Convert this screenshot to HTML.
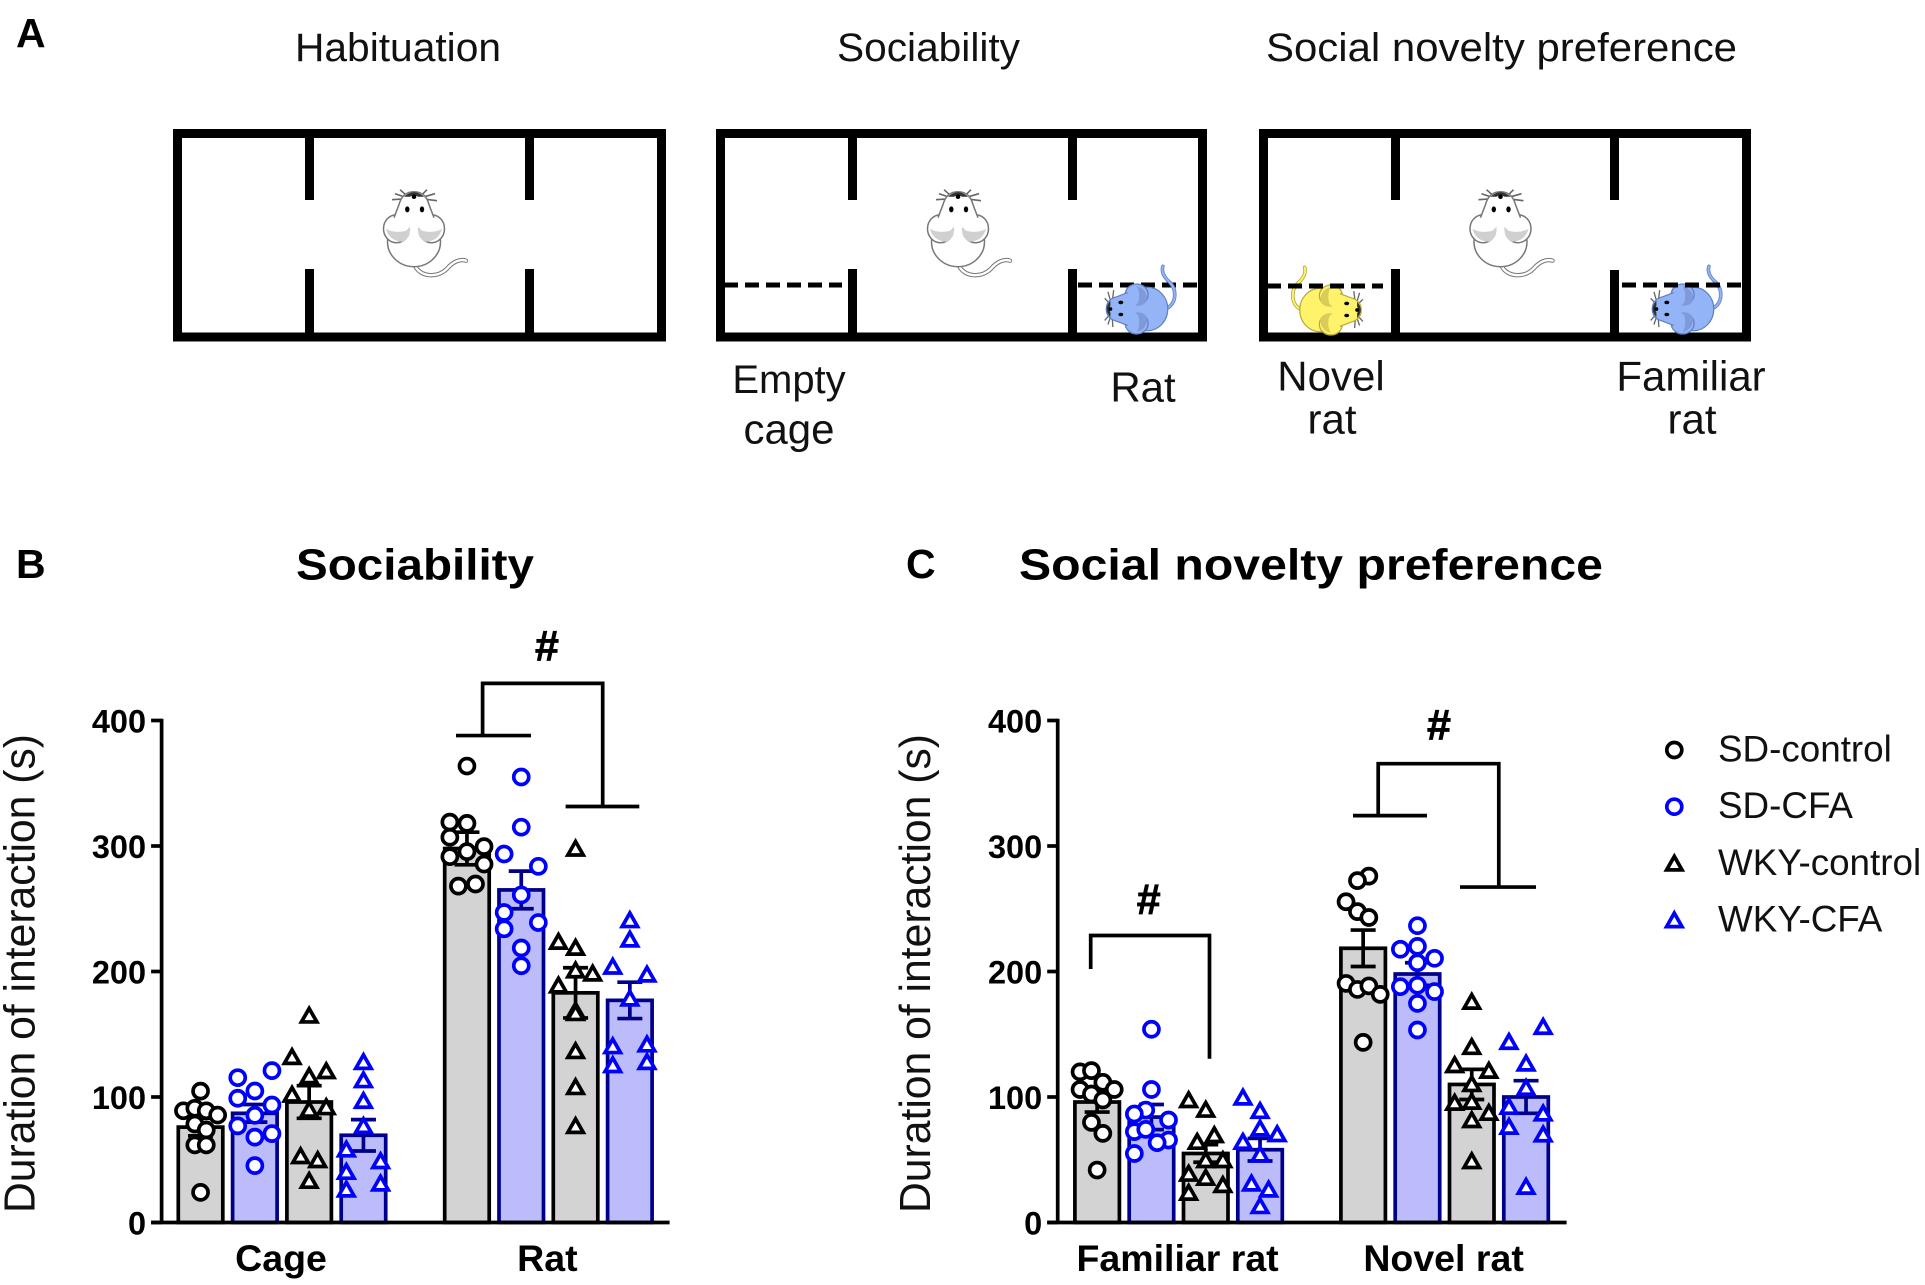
<!DOCTYPE html>
<html lang="en">
<head>
<meta charset="utf-8">
<title>Sociability and social novelty preference</title>
<style>
html,body{margin:0;padding:0;background:#fff;}
svg{display:block;font-family:"Liberation Sans",Arial,sans-serif;}
.hdr{font-size:40px;fill:#111;}
.lbl{font-size:42px;fill:#111;text-anchor:middle;}
.panel{font-size:41px;font-weight:bold;fill:#000;}
.title{font-size:44px;font-weight:bold;fill:#000;}
.hash{font-size:43px;font-weight:bold;fill:#000;text-anchor:middle;stroke:#000;stroke-width:.8px;}
.legend-text{font-size:36.8px;fill:#111;}
.wall{fill:#000;}
.dash{stroke:#000;stroke-width:5;stroke-dasharray:14 7;fill:none;}
</style>
</head>
<body>
<svg id="figure" xmlns="http://www.w3.org/2000/svg" width="1925" height="1285" viewBox="0 0 1925 1285">
  <defs>
    <g id="mouse">
      <path d="M1,39 C6,50 23,52 33,42 C39,35 46,32 52,34" fill="none" stroke="var(--s)" stroke-width="4.4" stroke-linecap="round"/>
      <path d="M1,39 C6,50 23,52 33,42 C39,35 46,32 52,34" fill="none" stroke="var(--t)" stroke-width="2.4" stroke-linecap="round"/>
      <path d="M-7,-28 L-22,-27 M-7,-29 L-19,-33 M-6,-30 L-14,-37 M7,-28 L23,-26 M7,-29 L21,-33 M6,-30 L13,-37" fill="none" stroke="#666" stroke-width="1.6"/>
      <ellipse cx="0" cy="15" rx="26.5" ry="25" fill="var(--c)" stroke="var(--s)" stroke-width="1.5"/>
      <ellipse cx="-17.5" cy="2" rx="13" ry="14" fill="var(--c)" stroke="var(--s)" stroke-width="1.5"/>
      <ellipse cx="17.5" cy="2" rx="13" ry="14" fill="var(--c)" stroke="var(--s)" stroke-width="1.5"/>
      <path d="M0,-35 C-8,-35 -13,-30 -15,-22 L-20,-9 L-8,8 L8,8 L20,-9 L15,-22 C13,-30 8,-35 0,-35 Z" fill="var(--c)"/>
      <path d="M-20,-9 L-15,-22 C-13,-30 -8,-35 0,-35 C8,-35 13,-30 15,-22 L20,-9" fill="none" stroke="var(--s)" stroke-width="1.5"/>
      <path d="M-28,2 Q-20,7 -8,4 L-4,0 Q-3,12 -12,15 Q-25,14 -28,2 Z" fill="var(--h)"/>
      <path d="M28,2 Q20,7 8,4 L4,0 Q3,12 12,15 Q25,14 28,2 Z" fill="var(--h)"/>
      <path d="M-10,-30 Q0,-39 10,-30 L4,-30 Q0,-33 -4,-30 Z" fill="#333"/>
      <circle cx="0" cy="-30" r="2.3" fill="#000"/>
      <ellipse cx="-6.7" cy="-17.3" rx="2.2" ry="3" fill="#000"/>
      <ellipse cx="8" cy="-17.3" rx="2.2" ry="3" fill="#000"/>
    </g>
  </defs>

  <!-- Panel A -->
  <g id="panel-a">
    <text class="panel" x="16" y="47">A</text>
    <text class="hdr" x="295" y="61" textLength="206" lengthAdjust="spacingAndGlyphs">Habituation</text>
    <text class="hdr" x="837" y="61" textLength="183" lengthAdjust="spacingAndGlyphs">Sociability</text>
    <text class="hdr" x="1266" y="61" textLength="471" lengthAdjust="spacingAndGlyphs">Social novelty preference</text>

    <g>
      <rect x="177.500" y="133.500" width="484" height="203.500" fill="none" stroke="#000" stroke-width="9"/>
      <rect class="wall" x="305" y="130" width="9" height="70"/>
      <rect class="wall" x="525" y="130" width="9" height="70"/>
      <rect class="wall" x="305" y="269" width="9" height="68"/>
      <rect class="wall" x="525" y="269" width="9" height="68"/>
      <use href="#mouse" transform="translate(414,226.700)" style="--c:#fff;--s:#777;--t:#fff;--h:#d0d0d0"/>
    </g>

    <g>
      <rect x="720.500" y="133.500" width="482" height="203.500" fill="none" stroke="#000" stroke-width="9"/>
      <rect class="wall" x="848" y="130" width="9" height="70"/>
      <rect class="wall" x="1068" y="130" width="9" height="70"/>
      <rect class="wall" x="848" y="269" width="9" height="68"/>
      <rect class="wall" x="1068" y="269" width="9" height="68"/>
      <line class="dash" x1="724" y1="285" x2="842" y2="285"/>
      <line class="dash" x1="1078" y1="285" x2="1200" y2="285"/>
      <use href="#mouse" transform="translate(958,226.700)" style="--c:#fff;--s:#777;--t:#fff;--h:#d0d0d0"/>
      <use href="#mouse" transform="translate(1135,309) rotate(-90) scale(.82)" style="--c:#94b4f8;--s:#5f7fc0;--t:#94b4f8;--h:#7f9ad8"/>
    </g>

    <g>
      <rect x="1263.500" y="133.500" width="483" height="203.500" fill="none" stroke="#000" stroke-width="9"/>
      <rect class="wall" x="1391" y="130" width="9" height="70"/>
      <rect class="wall" x="1610" y="130" width="9" height="70"/>
      <rect class="wall" x="1391" y="269" width="9" height="68"/>
      <rect class="wall" x="1610" y="270" width="9" height="67"/>
      <use href="#mouse" transform="translate(1332.500,310) rotate(90) scale(-.82,.82)" style="--c:#fff36b;--s:#b5a93a;--t:#fff36b;--h:#d9cc58"/>
      <use href="#mouse" transform="translate(1681,309) rotate(-90) scale(.82)" style="--c:#94b4f8;--s:#5f7fc0;--t:#94b4f8;--h:#7f9ad8"/>
      <line class="dash" x1="1267" y1="286" x2="1383" y2="286"/>
      <line class="dash" x1="1622" y1="285" x2="1741" y2="285"/>
      <use href="#mouse" transform="translate(1500.500,226.700)" style="--c:#fff;--s:#777;--t:#fff;--h:#d0d0d0"/>
    </g>

    <text class="lbl" style="font-size:40px" x="789" y="393">Empty</text>
    <text class="lbl" x="789" y="443.500">cage</text>
    <text class="lbl" x="1143" y="401.500">Rat</text>
    <text class="lbl" x="1331" y="390.500">Novel</text>
    <text class="lbl" x="1332" y="433.500">rat</text>
    <text class="lbl" x="1691" y="390.500">Familiar</text>
    <text class="lbl" x="1692" y="433.500">rat</text>
  </g>

  <!-- Panel headings -->
  <text class="panel" x="16" y="578">B</text>
  <text class="title" x="296" y="579.500" textLength="238" lengthAdjust="spacingAndGlyphs">Sociability</text>
  <text class="panel" x="906" y="578">C</text>
  <text class="title" x="1019" y="579.500" textLength="584" lengthAdjust="spacingAndGlyphs">Social novelty preference</text>

  <g id="chart-b"></g>
  <g id="chart-c"></g>

  <!-- Legend -->
  <g id="legend"></g>
</svg>

<script>
// ---------- shared data ----------
const seriesLabels = ['SD-control', 'SD-CFA', 'WKY-control', 'WKY-CFA'];
const tickValues = [0, 100, 200, 300, 400];

// ---------- Panel B: sociability ----------
const sociabilityCategories = ['Cage', 'Rat'];
const cageMeans = [76, 87, 96, 69.5];
const cageErrors = [7, 7, 13, 12.5];
const ratMeans = [298, 265, 183, 177];
const ratErrors = [13, 15, 20, 14.5];

const cageSdControl = [104.7, 89, 91, 89, 85.6, 78.5, 73.7, 61.8, 61.8, 24];
const cageSdControlSlots = [0, -3, -1, 1, 3, -1, 1, -1, 1, 0];
const cageSdCfa = [115.4, 121, 104.8, 99, 93.6, 85.4, 77, 70.8, 68, 45.3];
const cageSdCfaSlots = [-3, 3, 0, -3, 3, 0, -3, 3, 0, 0];
const cageWkyControl = [165, 132, 116.7, 120.7, 102, 90, 92, 53, 49.8, 33.3];
const cageWkyControlSlots = [0, -3, 0, 3, -3, 0, 3, -1.5, 1.5, 0];
const cageWkyCfa = [128, 113.5, 97, 77, 58.3, 49, 40.5, 31.2, 26.4];
const cageWkyCfaSlots = [0, 0, 0, 0, -3, 3, -3, 3, -3];

const ratSdControl = [363.7, 319, 318, 307, 299.5, 295.5, 291.5, 285.6, 268, 269.7];
const ratSdControlSlots = [0, -3, 0, -3, 3, 0, -3, 3, -1.5, 1.5];
const ratSdCfa = [355, 315, 293.6, 283.8, 261, 247, 239, 234, 218.7, 204.6];
const ratSdCfaSlots = [0, 0, -3, 3, 0, -3, 3, -3, 0, 0];
const ratWkyControl = [298, 223.8, 219, 201, 198.5, 189, 169, 167, 136.7, 108, 77];
const ratWkyControlSlots = [0, -3, 0, 0, 3, -3, 0, 0, 0, 0, 0];
const ratWkyCfa = [241, 225.6, 204, 197.7, 178.6, 140.6, 142, 125.5, 128];
const ratWkyCfaSlots = [0, 0, -3, 3, 0, -3, 3, -3, 3];

// ---------- Panel C: social novelty ----------
const noveltyCategories = ['Familiar rat', 'Novel rat'];
const familiarMeans = [96, 84, 55, 58];
const familiarErrors = [8, 10, 7, 9];
const novelMeans = [218.5, 198, 110, 100];
const novelErrors = [14.5, 9, 12, 13];

const familiarSdControl = [120, 121, 111.7, 106, 106, 102.4, 97.6, 79.8, 71, 41.8];
const familiarSdControlSlots = [-3, -1, 1, -3, 3, -1, 1, -1, 1, 0];
const familiarSdCfa = [154, 106, 89.6, 86.5, 81.7, 72.4, 74.2, 65.7, 63.6, 55];
const familiarSdCfaSlots = [0, 0, -1, -3, 3, -3, -1, 3, 1, -3];
const familiarWkyControl = [97.6, 90, 64.4, 69.7, 49.8, 49.8, 39, 35.7, 30, 23.8];
const familiarWkyControlSlots = [-3, 0, -1.5, 1.5, 0, 3, -3, 0, 3, -3];
const familiarWkyCfa = [99.7, 89, 75, 70.5, 64.4, 54.3, 31.2, 26.4, 13.2];
const familiarWkyCfaSlots = [-3, 0, 0, 3, -3, 0, -1.5, 1.5, 0];

const novelSdControl = [276, 272.4, 255.6, 247.7, 243, 190.5, 185.7, 188.5, 181.8, 143.5];
const novelSdControlSlots = [1, -1, -3, -1, 1, -3, -1, 1, 3, 0];
const novelSdCfa = [236.5, 217.7, 220, 210.5, 207, 187.9, 189, 184, 174.6, 153.4];
const novelSdCfaSlots = [0, -3, 0, 3, 0, -3, 0, 3, 0, 0];
const novelWkyControl = [176, 140, 125.5, 121, 110.4, 95.5, 96.3, 87.5, 81.7, 49];
const novelWkyControlSlots = [0, 0, -3, 3, 0, -3, 0, 3, 0, 0];
const novelWkyCfa = [156, 144, 126.8, 107.4, 92.3, 87, 76.4, 70.3, 28.6];
const novelWkyCfaSlots = [3, -3, 0, 0, -3, 3, -3, 3, 0];

// ---------- axis functions ----------
const NS = 'http://www.w3.org/2000/svg';
const BASELINE = 1222.5;
const UNITS_TO_PX = 1.255;
const BAR_SLOT = 54.3;
const BAR_WIDTH = 44.5;
const SWARM_UNIT = 5.7;
const STROKE = 3.7;
function y(v) { return BASELINE - v * UNITS_TO_PX; }
function barX(groupCentre, seriesIndex) { return groupCentre + (seriesIndex - 1.5) * BAR_SLOT; }

function make(tag, attrs, parent) {
  const n = document.createElementNS(NS, tag);
  for (const k in attrs) n.setAttribute(k, attrs[k]);
  parent.appendChild(n);
  return n;
}

const barFills = ['#d3d3d3', '#bcbcfa', '#d3d3d3', '#bcbcfa'];
const barStrokes = ['#000000', '#00008b', '#000000', '#00008b'];
const errStrokes = ['#000000', '#00008b', '#000000', '#00008b'];
const markStrokes = ['#000000', '#0000ff', '#000000', '#0000ff'];
const markShapes = ['circle', 'circle', 'triangle', 'triangle'];

function drawMarker(parent, cx, cy, seriesIndex) {
  const stroke = markStrokes[seriesIndex];
  if (markShapes[seriesIndex] === 'circle') {
    return make('circle', { cx: cx, cy: cy, r: 7.5, fill: '#fff', stroke: stroke, 'stroke-width': STROKE }, parent);
  }
  const pts = [[cx, cy - 7], [cx - 7.7, cy + 6.5], [cx + 7.7, cy + 6.5]].map(function (p) { return p.join(','); }).join(' ');
  return make('polygon', { points: pts, fill: '#fff', stroke: stroke, 'stroke-width': STROKE, 'stroke-linejoin': 'miter' }, parent);
}

function drawGroup(parent, centre, label, means, errors, pointSets, slotSets) {
  const g = make('g', {}, parent);
  
  
  means.forEach(function (mean, s) {
    const cx = barX(centre, s);
    const key = seriesLabels[s].toLowerCase();
    const bar = make('rect', {
      x: cx - BAR_WIDTH / 2, y: y(mean), width: BAR_WIDTH, height: BASELINE - y(mean),
      fill: barFills[s], stroke: barStrokes[s], 'stroke-width': STROKE
    }, g);
    
    

    const err = make('path', {
      d: 'M' + (cx - 12.5) + ' ' + y(mean + errors[s]) + 'H' + (cx + 12.5) +
         'M' + cx + ' ' + y(mean + errors[s]) + 'V' + y(mean - errors[s]) +
         'M' + (cx - 12.5) + ' ' + y(mean - errors[s]) + 'H' + (cx + 12.5),
      fill: 'none', stroke: errStrokes[s], 'stroke-width': STROKE
    }, g);
    
    

    pointSets[s].forEach(function (v, i) {
      const pt = drawMarker(g, cx + slotSets[s][i] * SWARM_UNIT, y(v), s);
      
      
    });
  });
  const cat = make('text', {
    x: centre - 1, y: 1271, 'text-anchor': 'middle', 'font-size': 37.5, 'font-weight': 'bold', fill: '#000'
  }, parent);
  cat.textContent = label;
  
  
}

function drawAxes(parent, axisX, axisEnd, titleX) {
  tickValues.forEach(function (t) {
    const tick = make('line', { x1: axisX - 10.5, x2: axisX, y1: y(t), y2: y(t), stroke: '#000', 'stroke-width': STROKE }, parent);
    
    
    const lab = make('text', {
      x: axisX - 15.5, y: y(t) + 12, 'text-anchor': 'end', 'font-size': 32.5, 'font-weight': 'bold', fill: '#000'
    }, parent);
    lab.textContent = String(t);
    
    
  });
  const yAxis = make('line', { x1: axisX, x2: axisX, y1: y(400) - 1.7, y2: BASELINE, stroke: '#000', 'stroke-width': STROKE }, parent);
  
  
  const xAxis = make('line', { x1: axisX - 10.5, x2: axisEnd, y1: BASELINE, y2: BASELINE, stroke: '#000', 'stroke-width': STROKE }, parent);
  
  
  const title = make('text', {
    transform: 'translate(' + titleX + ',1213) rotate(-90)', 'font-size': 44, fill: '#111',
    textLength: 479, lengthAdjust: 'spacingAndGlyphs'
  }, parent);
  title.textContent = 'Duration of interaction (s)';
  
  
}

function drawBracket(parent, xLeft, xRight, topValue, leftValue, rightValue, leftCap, rightCap, hashX, hashValue) {
  const parts = ['M' + xLeft + ' ' + y(leftValue) + 'V' + y(topValue) + 'H' + xRight + 'V' + y(rightValue)];
  if (leftCap) parts.push('M' + leftCap[0] + ' ' + y(leftValue) + 'H' + leftCap[1]);
  if (rightCap) parts.push('M' + rightCap[0] + ' ' + y(rightValue) + 'H' + rightCap[1]);
  const br = make('path', { d: parts.join(''), fill: 'none', stroke: '#000', 'stroke-width': 3.7 }, parent);
  
  
  const hash = make('text', { x: hashX, y: y(hashValue) + 14, class: 'hash' }, parent);
  hash.textContent = '#';
  
  
}

// ---------- chart B ----------
const chartB = document.getElementById('chart-b');
drawGroup(chartB, 282, sociabilityCategories[0], cageMeans, cageErrors,
  [cageSdControl, cageSdCfa, cageWkyControl, cageWkyCfa],
  [cageSdControlSlots, cageSdCfaSlots, cageWkyControlSlots, cageWkyCfaSlots]);
drawGroup(chartB, 548.4, sociabilityCategories[1], ratMeans, ratErrors,
  [ratSdControl, ratSdCfa, ratWkyControl, ratWkyCfa],
  [ratSdControlSlots, ratSdCfaSlots, ratWkyControlSlots, ratWkyCfaSlots]);
drawAxes(chartB, 161.6, 669.6, 34.5);
drawBracket(chartB, 482.6, 602.7, 429.6, 388, 331.5, [456, 531], [565.6, 639.3], 547, 459);

// ---------- chart C ----------
const chartC = document.getElementById('chart-c');
drawGroup(chartC, 1178.6, noveltyCategories[0], familiarMeans, familiarErrors,
  [familiarSdControl, familiarSdCfa, familiarWkyControl, familiarWkyCfa],
  [familiarSdControlSlots, familiarSdCfaSlots, familiarWkyControlSlots, familiarWkyCfaSlots]);
drawGroup(chartC, 1444.6, noveltyCategories[1], novelMeans, novelErrors,
  [novelSdControl, novelSdCfa, novelWkyControl, novelWkyCfa],
  [novelSdControlSlots, novelSdCfaSlots, novelWkyControlSlots, novelWkyCfaSlots]);
drawAxes(chartC, 1057.7, 1566.6, 930);
drawBracket(chartC, 1378.2, 1498.8, 365.6, 324.2, 267.3, [1353, 1427], [1460, 1536], 1439, 396);
drawBracket(chartC, 1090.7, 1209.5, 228.7, 202, 130.5, null, null, 1148.7, 257);

// ---------- legend ----------
const legend = document.getElementById('legend');
seriesLabels.forEach(function (label, s) {
  const rowY = 750 + s * 56.7;
  const m = drawMarker(legend, 1674.3, rowY, s);
  
  
  const t = make('text', { x: 1718, y: rowY + 11.5, class: 'legend-text' }, legend);
  t.textContent = label;
  
  
});
</script>
</body>
</html>
